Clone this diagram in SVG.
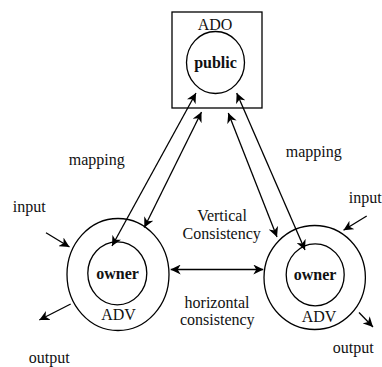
<svg xmlns="http://www.w3.org/2000/svg" width="382" height="367" viewBox="0 0 382 367">
  <style>
    .shape { fill: none; stroke: #000; stroke-width: 1.3; }
    .label { font-family: "Liberation Serif", "Times New Roman", serif; font-size: 16px; fill: #111; text-anchor: middle; }
    .bold { font-weight: bold; }
    .conn line { stroke: #000; stroke-width: 1.3; }
    .one line { marker-end: url(#head); }
    .two line { marker-start: url(#head); marker-end: url(#head); }
  </style>
  <defs>
    <marker id="head" viewBox="0 0 10 10" refX="10" refY="5" markerWidth="10" markerHeight="10" markerUnits="userSpaceOnUse" orient="auto-start-reverse">
      <path d="M10,5 L0,0 L3,5 L0,10 Z" fill="#000"/>
    </marker>
  </defs>
  <rect width="382" height="367" fill="#fff"/>

  <!-- shared object with its public part -->
  <g id="ado">
    <rect class="shape" x="172" y="12" width="90" height="96"/>
    <text class="label" x="215" y="30">ADO</text>
    <ellipse class="shape" cx="215.5" cy="62.5" rx="29" ry="31"/>
    <text class="label bold" x="215.5" y="68">public</text>
  </g>

  <!-- left view -->
  <g id="adv-left">
    <ellipse class="shape" cx="118" cy="274.5" rx="51" ry="56"/>
    <ellipse class="shape" cx="117.3" cy="273.3" rx="29.5" ry="31.5"/>
    <text class="label bold" x="117.5" y="278.5">owner</text>
    <text class="label" x="118.5" y="319.5">ADV</text>
  </g>

  <!-- right view -->
  <g id="adv-right">
    <ellipse class="shape" cx="314.7" cy="277.5" rx="50.7" ry="52"/>
    <ellipse class="shape" cx="315.2" cy="274.8" rx="29" ry="31"/>
    <text class="label bold" x="315" y="280">owner</text>
    <text class="label" x="319" y="321.5">ADV</text>
  </g>

  <!-- connectors -->
  <g id="connectors" class="conn">
    <g class="two">
      <line x1="112" y1="246" x2="196" y2="93"/>
      <line x1="144.3" y1="227.5" x2="201.5" y2="112"/>
      <line x1="277" y1="237" x2="228.3" y2="113"/>
      <line x1="305" y1="250" x2="236.7" y2="93"/>
      <line x1="170.7" y1="269.5" x2="263.3" y2="269.5"/>
    </g>
    <g class="one">
      <line x1="46" y1="232.7" x2="69.5" y2="247"/>
      <line x1="70.7" y1="304" x2="39.3" y2="320"/>
      <line x1="366.7" y1="216" x2="343.5" y2="230.3"/>
      <line x1="359" y1="312.5" x2="373" y2="327"/>
    </g>
  </g>

  <!-- annotations -->
  <g id="annotations">
    <text class="label" x="96.7" y="165">mapping</text>
    <text class="label" x="313.7" y="156.7">mapping</text>
    <text class="label" x="29.2" y="211.7">input</text>
    <text class="label" x="365.3" y="203.3">input</text>
    <text class="label" x="222" y="220.5">Vertical</text>
    <text class="label" x="221.7" y="238.5">Consistency</text>
    <text class="label" x="217" y="308">horizontal</text>
    <text class="label" x="217.3" y="325">consistency</text>
    <text class="label" x="49.2" y="363.3">output</text>
    <text class="label" x="353.3" y="353.3">output</text>
  </g>
</svg>
